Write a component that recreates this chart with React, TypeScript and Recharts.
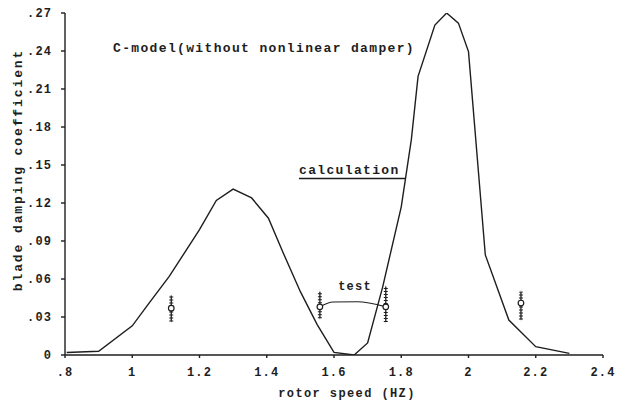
import React from 'react';
import {
  ComposedChart,
  Line,
  Scatter,
  ErrorBar,
  XAxis,
  YAxis,
  Customized,
} from 'recharts';

// Calculated blade damping coefficient vs rotor speed (Hz)
const calcSpeed = [
  0.805, 0.9, 1.0, 1.05, 1.11, 1.2, 1.25, 1.3, 1.355, 1.405, 1.45, 1.5, 1.55, 1.6,
  1.66, 1.7, 1.745, 1.8, 1.83, 1.85, 1.9, 1.935, 1.97, 2.0, 2.05, 2.12, 2.2, 2.3,
];
const calcDamping = [
  0.002, 0.003, 0.023, 0.041, 0.062, 0.099, 0.122, 0.131, 0.124, 0.108, 0.08, 0.05,
  0.024, 0.002, 0.0, 0.0095, 0.054, 0.117, 0.17, 0.22, 0.2605, 0.27, 0.262, 0.2395,
  0.079, 0.0276, 0.0066, 0.0013,
];

// Measured (test) points with their scatter bands
const testSpeed = [1.116, 1.558, 1.754, 2.156];
const testDamping = [0.037, 0.038, 0.038, 0.041];
const testErrLow = [0.0105, 0.009, 0.012, 0.013];
const testErrHigh = [0.01, 0.012, 0.016, 0.009];

// Faired line joining the two middle test points
const linkSpeed = [1.558, 1.597, 1.669, 1.754];
const linkDamping = [0.038, 0.0418, 0.042, 0.038];

const xTicks = [0.8, 1.0, 1.2, 1.4, 1.6, 1.8, 2.0, 2.2, 2.4];
const xTickLabels = ['.8', '1', '1.2', '1.4', '1.6', '1.8', '2', '2.2', '2.4'];
const yTicks = [0, 0.03, 0.06, 0.09, 0.12, 0.15, 0.18, 0.21, 0.24, 0.27];
const yTickLabels = ['0', '.03', '.06', '.09', '.12', '.15', '.18', '.21', '.24', '.27'];

const calcData = calcSpeed.map((x, i) => ({ x, y: calcDamping[i] }));
const testData = testSpeed.map((x, i) => ({
  x,
  y: testDamping[i],
  err: [testErrLow[i], testErrHigh[i]],
}));
const linkData = linkSpeed.map((x, i) => ({ x, y: linkDamping[i] }));

const INK = '#1e1e1e';
const FONT = '"Liberation Mono", "DejaVu Sans Mono", monospace';

const tickStyle = {
  fontFamily: FONT,
  fontSize: 12,
  fontWeight: 'bold',
  fill: INK,
  letterSpacing: 1.1,
};

const Annotations = () => (
  <g fontFamily={FONT} fill={INK} fontWeight="bold">
    <text x={113} y={52} fontSize={13} letterSpacing={1.35}>
      C-model(without nonlinear damper)
    </text>
    <text x={299} y={174} fontSize={13} letterSpacing={1.35}>
      calculation
    </text>
    <line x1={299} y1={178.5} x2={406} y2={178.5} stroke={INK} strokeWidth={1.3} />
    <text x={355} y={290} fontSize={12} letterSpacing={1.2} textAnchor="middle">
      test
    </text>
    <text x={347} y={397} fontSize={12} letterSpacing={1.4} textAnchor="middle">
      rotor speed (HZ)
    </text>
    <text
      x={22}
      y={170}
      fontSize={13}
      letterSpacing={1.9}
      textAnchor="middle"
      transform="rotate(-90 22 170)"
    >
      blade damping coefficient
    </text>
  </g>
);

const TestMarker = (props: any) => {
  const { cx, cy } = props;
  if (cx == null || cy == null) return null;
  return <circle cx={cx} cy={cy} r={2.8} fill="#fff" stroke={INK} strokeWidth={1.2} />;
};

export default function App() {
  return (
    <div style={{ position: 'absolute', left: 0, top: 0, width: 618, height: 408, background: '#fff' }}>
      <ComposedChart width={618} height={408} margin={{ top: 13, right: 15, bottom: 0, left: 0 }}>
        <XAxis
          type="number"
          dataKey="x"
          domain={[0.8, 2.4]}
          ticks={xTicks}
          tickFormatter={(_v: number, i: number) => xTickLabels[i]}
          height={53}
          tickSize={3}
          tickMargin={9}
          stroke={INK}
          strokeWidth={1.4}
          tick={tickStyle}
          allowDataOverflow
        />
        <YAxis
          type="number"
          dataKey="y"
          domain={[0, 0.27]}
          ticks={yTicks}
          tickFormatter={(_v: number, i: number) => yTickLabels[i]}
          width={65}
          tickSize={4}
          tickMargin={9}
          stroke={INK}
          strokeWidth={1.4}
          tick={tickStyle}
          allowDataOverflow
        />
        <Line
          data={calcData}
          dataKey="y"
          type="linear"
          stroke={INK}
          strokeWidth={1.4}
          dot={false}
          activeDot={false}
          isAnimationActive={false}
        />
        <Line
          data={linkData}
          dataKey="y"
          type="monotone"
          stroke={INK}
          strokeWidth={1.1}
          dot={false}
          activeDot={false}
          isAnimationActive={false}
        />
        <Scatter data={testData} dataKey="y" shape={TestMarker} isAnimationActive={false}>
          <ErrorBar dataKey="err" direction="y" width={0} stroke={INK} strokeWidth={1.3} isAnimationActive={false} />
          <ErrorBar
            dataKey="err"
            direction="y"
            width={0}
            stroke={INK}
            strokeWidth={4}
            strokeDasharray="1 2"
            isAnimationActive={false}
          />
        </Scatter>
        <Customized component={Annotations} />
      </ComposedChart>
    </div>
  );
}
